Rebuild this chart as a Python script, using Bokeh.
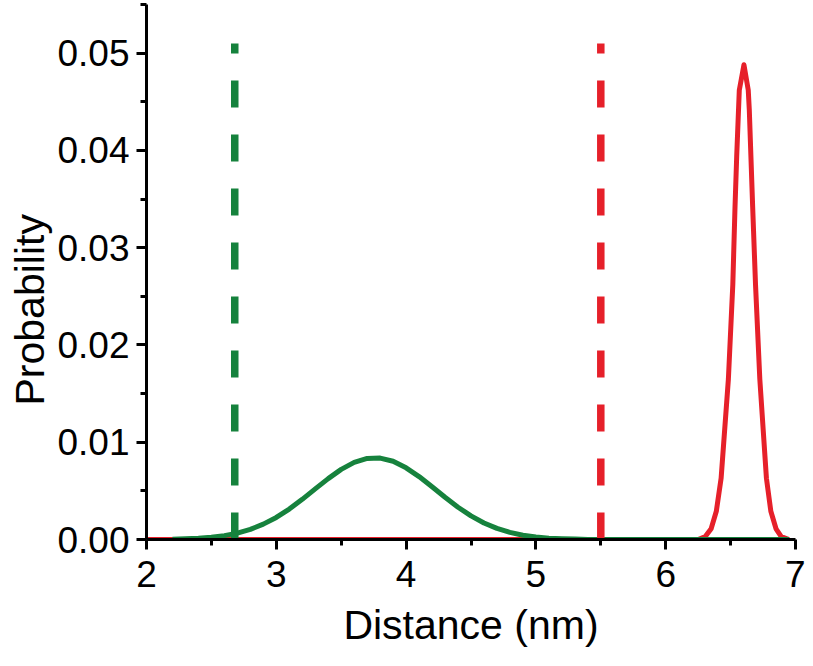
from bokeh.plotting import figure
from bokeh.models import FixedTicker, PrintfTickFormatter, Range1d, Title
from bokeh.embed import file_html
from bokeh.resources import INLINE

# ---- data ----
green_x = [2.2, 2.3, 2.4, 2.5, 2.6, 2.7, 2.8, 2.9, 3.0, 3.1, 3.2, 3.3, 3.4, 3.5,
           3.6, 3.7, 3.8, 3.9, 4.0, 4.1, 4.2, 4.3, 4.4, 4.5, 4.6, 4.7, 4.8, 4.9,
           5.0, 5.1, 5.2, 5.3, 5.4, 5.5, 6.0, 6.5, 6.95]
green_y = [0.00003, 0.00007, 0.00013, 0.00023, 0.00040, 0.00066, 0.00104, 0.00158,
           0.00227, 0.00313, 0.00413, 0.00520, 0.00626, 0.00721, 0.00793, 0.00833,
           0.00837, 0.00804, 0.00737, 0.00647, 0.00542, 0.00434, 0.00332, 0.00243,
           0.00170, 0.00114, 0.00073, 0.00044, 0.00026, 0.00014, 0.00008, 0.00004,
           0.0, 0.0, 0.0, 0.0, 0.0]

red_x = [2.0, 6.25, 6.305, 6.35, 6.39, 6.427, 6.483, 6.517, 6.534, 6.547, 6.567,
         6.603, 6.636, 6.644, 6.67, 6.692, 6.725, 6.776, 6.81, 6.85, 6.89, 6.95]
red_y = [0.0, 0.0, 0.0003, 0.0011, 0.0029, 0.0063, 0.0165, 0.0262, 0.0342, 0.0394,
         0.0462, 0.0488, 0.0462, 0.0442, 0.0342, 0.0262, 0.0165, 0.0063, 0.0029,
         0.0011, 0.0003, 0.0]

marker_x = [2.68, 5.50]          # dashed reference distances
marker_top = [0.0510, 0.0510]
marker_bottom = [0.0, 0.0]

x_ticks = [2, 3, 4, 5, 6, 7]
x_minor = [2.5, 3.5, 4.5, 5.5, 6.5]
y_ticks = [0.00, 0.01, 0.02, 0.03, 0.04, 0.05]
y_minor = [0.005, 0.015, 0.025, 0.035, 0.045, 0.055]

x_label = "Distance (nm)"
y_label = "Probability"

GREEN = "#16823d"
RED = "#e6202a"
FONT = "Liberation Sans"

p = figure(width=805, height=650, output_backend="svg", toolbar_location=None,
           x_range=Range1d(2, 7), y_range=Range1d(0, 0.055),
           min_border_left=146, min_border_right=10, min_border_top=4,
           min_border_bottom=109)
p.outline_line_color = None
p.grid.visible = False
p.background_fill_color = "white"
p.border_fill_color = "white"

p.line(red_x, red_y, line_color=RED, line_width=5, line_join="round")
p.line(green_x, green_y, line_color=GREEN, line_width=5, line_join="round")
p.segment(x0=[marker_x[0]], y0=[marker_bottom[0]], x1=[marker_x[0]], y1=[marker_top[0]],
          line_color=GREEN, line_width=7.5, line_dash="27 27", line_cap="butt")
p.segment(x0=[marker_x[1]], y0=[marker_bottom[1]], x1=[marker_x[1]], y1=[marker_top[1]],
          line_color=RED, line_width=7.5, line_dash="27 27", line_cap="butt")

for ax in (p.xaxis[0], p.yaxis[0]):
    ax.axis_line_width = 3
    ax.major_tick_line_width = 3
    ax.minor_tick_line_width = 3
    ax.major_tick_out = 10
    ax.major_tick_in = 0
    ax.minor_tick_out = 6
    ax.minor_tick_in = 0
    ax.major_label_text_font = FONT
    ax.major_label_text_font_size = "37px"
    ax.major_label_text_color = "black"
    ax.axis_line_color = "black"
    ax.major_tick_line_color = "black"
    ax.minor_tick_line_color = "black"

p.xaxis[0].ticker = FixedTicker(ticks=x_ticks, minor_ticks=x_minor)
p.yaxis[0].ticker = FixedTicker(ticks=y_ticks, minor_ticks=y_minor)
p.yaxis[0].formatter = PrintfTickFormatter(format="%.2f")
p.yaxis[0].major_label_standoff = 7
p.xaxis[0].major_label_standoff = 11

p.xaxis[0].axis_label = x_label
p.xaxis[0].axis_label_text_font = FONT
p.xaxis[0].axis_label_text_font_size = "41px"
p.xaxis[0].axis_label_text_font_style = "normal"
p.xaxis[0].axis_label_text_color = "black"
p.xaxis[0].axis_label_standoff = 12

ytitle = Title(text=y_label, align="left", offset=134, text_font=FONT,
               text_font_size="41px", text_font_style="normal", text_color="black",
               standoff=0, vertical_align="top")
p.add_layout(ytitle, "left")

open("out.html", "w").write(file_html(p, INLINE))
